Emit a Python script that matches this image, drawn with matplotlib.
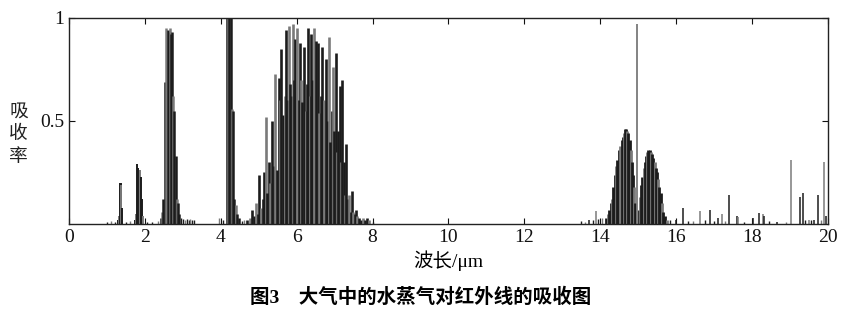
import matplotlib
matplotlib.use("Agg")
import matplotlib.pyplot as plt

# 吸收谱线: 波长(um) 和 吸收率, 按谱带读出
band_14_x = [1.28, 1.31, 1.34, 1.36, 1.38, 1.41]
band_14_y = [0.02, 0.04, 0.20, 0.20, 0.19, 0.08]

band_19_x = [1.74, 1.77, 1.80, 1.83, 1.86, 1.89, 1.92, 1.95]
band_19_y = [0.02, 0.05, 0.29, 0.27, 0.26, 0.23, 0.12, 0.04]

band_27_x = [2.43, 2.46, 2.49, 2.52, 2.56, 2.60, 2.63, 2.66, 2.69, 2.72, 2.75, 2.78, 2.81, 2.84, 2.87, 2.91]
band_27_y = [0.03, 0.06, 0.12, 0.69, 0.95, 0.94, 0.93, 0.95, 0.92, 0.93, 0.62, 0.55, 0.33, 0.12, 0.10, 0.05]

band_43_x = [4.17, 4.20, 4.23, 4.26, 4.29, 4.32, 4.35, 4.39, 4.43, 4.47]
band_43_y = [1.00, 1.00, 1.00, 1.00, 0.56, 0.55, 0.12, 0.09, 0.05, 0.03]

band_63_x = [4.70, 4.76, 4.82, 4.88, 4.93, 4.97, 5.02, 5.07, 5.11, 5.15, 5.18, 5.22, 5.27, 5.31,
             5.35, 5.39, 5.43, 5.48, 5.53, 5.57, 5.60, 5.65, 5.69, 5.73, 5.76, 5.79, 5.83, 5.87,
             5.90, 5.93, 5.96, 6.02, 6.05, 6.09, 6.12, 6.15, 6.20, 6.24, 6.27, 6.31, 6.34, 6.38,
             6.41, 6.45, 6.50, 6.55, 6.59, 6.63, 6.67, 6.71, 6.76, 6.80, 6.84, 6.88, 6.92, 6.96,
             6.99, 7.03, 7.07, 7.10, 7.13, 7.17, 7.20, 7.24, 7.27, 7.31, 7.35, 7.39, 7.42, 7.45,
             7.49, 7.53, 7.56, 7.60, 7.65, 7.70, 7.75, 7.80, 7.85, 7.90]
band_63_y = [0.02, 0.03, 0.07, 0.04, 0.10, 0.05, 0.24, 0.08, 0.12, 0.25, 0.52, 0.15, 0.30, 0.20,
             0.50, 0.28, 0.73, 0.26, 0.71, 0.60, 0.85, 0.53, 0.62, 0.94, 0.60, 0.96, 0.68, 0.62,
             0.97, 0.70, 0.90, 0.95, 0.60, 0.88, 0.70, 0.59, 0.86, 0.55, 0.68, 0.95, 0.62, 0.92,
             0.70, 0.95, 0.89, 0.88, 0.54, 0.62, 0.86, 0.60, 0.80, 0.50, 0.91, 0.40, 0.55, 0.76,
             0.45, 0.83, 0.35, 0.45, 0.67, 0.30, 0.70, 0.30, 0.14, 0.39, 0.12, 0.14, 0.06, 0.16,
             0.06, 0.05, 0.07, 0.04, 0.03, 0.02, 0.03, 0.02, 0.03, 0.02]

band_15_x = [14.15, 14.20, 14.23, 14.27, 14.30, 14.34, 14.38, 14.42, 14.45, 14.49, 14.52, 14.56,
             14.59, 14.62, 14.65, 14.68, 14.71, 14.74, 14.78, 14.81, 14.83, 14.86, 14.89, 14.92,
             15.02, 15.05, 15.08, 15.11, 15.14, 15.17, 15.20, 15.23, 15.26, 15.30, 15.33, 15.36,
             15.40, 15.43, 15.46, 15.49, 15.52, 15.56, 15.59, 15.63, 15.66, 15.70, 15.75]
band_15_y = [0.03, 0.05, 0.07, 0.10, 0.12, 0.18, 0.24, 0.28, 0.31, 0.36, 0.38, 0.41, 0.42, 0.44,
             0.46, 0.46, 0.45, 0.44, 0.41, 0.36, 0.30, 0.24, 0.18, 0.10,
             0.07, 0.13, 0.19, 0.23, 0.27, 0.30, 0.33, 0.35, 0.36, 0.36, 0.35, 0.34, 0.32, 0.30,
             0.27, 0.25, 0.22, 0.18, 0.15, 0.10, 0.06, 0.04, 0.02]

spike_x = [14.96]
spike_y = [0.97]

weak_x = [13.70, 13.88, 16.00, 16.17, 16.63, 16.89, 17.09, 17.21, 17.38, 17.59, 17.62, 18.03,
          18.19, 18.28, 18.31, 18.67, 19.02, 19.27, 19.33, 19.50, 19.62, 19.74, 19.90, 19.94]
weak_y = [0.02, 0.065, 0.02, 0.08, 0.065, 0.07, 0.03, 0.05, 0.14, 0.04, 0.035, 0.03,
          0.055, 0.05, 0.04, 0.01, 0.31, 0.13, 0.15, 0.02, 0.02, 0.14, 0.30, 0.04]

# 背景上的低矮谱线
floor_x = [1.00, 1.10, 1.20, 1.50, 1.60, 2.05, 2.20, 2.35, 2.95, 3.00, 3.05, 3.10, 3.15, 3.20,
           3.25, 3.30, 3.95, 4.05, 4.55, 4.62, 8.00, 13.50, 13.60, 13.80, 13.95, 14.05, 15.85,
           16.30, 16.45, 16.75, 17.00, 17.30, 17.80, 18.45, 18.90, 19.40, 19.55, 19.82]
floor_y = [0.01, 0.015, 0.01, 0.01, 0.015, 0.01, 0.01, 0.015, 0.03, 0.025, 0.02, 0.025, 0.02,
           0.025, 0.02, 0.02, 0.03, 0.02, 0.015, 0.02, 0.01, 0.015, 0.01, 0.02, 0.025, 0.03,
           0.02, 0.015, 0.015, 0.02, 0.015, 0.015, 0.01, 0.015, 0.01, 0.02, 0.02, 0.02]

x_ticks = [0, 2, 4, 6, 8, 10, 12, 14, 16, 18, 20]
y_ticks = [0.5, 1]

dark = "#1c1c1c"
gray = "#7a7a7a"

fig = plt.figure(figsize=(8.41, 3.18), dpi=100)
ax = fig.add_axes([0.082, 0.2956, 0.9025, 0.6478])


def draw_band(xs, ys, lw=1.6):
    cols = [gray if i % 3 == 1 else dark for i in range(len(xs))]
    ax.vlines(xs, 0, ys, colors=cols, linewidth=lw)


draw_band(floor_x, floor_y, lw=1.0)
draw_band(band_14_x, band_14_y, lw=1.4)
draw_band(band_19_x, band_19_y, lw=1.4)
draw_band(band_27_x, band_27_y, lw=1.8)
draw_band(band_43_x, band_43_y, lw=1.8)
draw_band(band_63_x, band_63_y, lw=1.9)
draw_band(band_15_x, band_15_y, lw=2.0)
draw_band(weak_x, weak_y, lw=1.1)
ax.vlines(spike_x, 0, spike_y, colors=gray, linewidth=1.3)

ax.set_xlim(0, 20)
ax.set_ylim(0, 1)
ax.set_xticks(x_ticks)
ax.set_yticks(y_ticks)
ax.set_yticklabels(["0.5", "1"])
ax.tick_params(direction="in", length=4, width=0.8, top=True, right=True,
               labelsize=14, colors="#111111")
for lab in ax.get_xticklabels() + ax.get_yticklabels():
    lab.set_family("Liberation Serif")
for s in ax.spines.values():
    s.set_linewidth(1.0)
    s.set_color("#222222")

fam = ["Liberation Serif", "Noto Sans CJK SC"]
ax.set_xlabel("波长/μm", family=fam, fontsize=14, labelpad=3)
fig.text(0.022, 0.58, "吸\n收\n率", family="Noto Sans CJK SC", fontsize=13.5,
         ha="center", va="center", linespacing=1.1, color="#222222")
fig.text(0.50, 0.065, "图3　大气中的水蒸气对红外线的吸收图", family=fam,
         fontsize=14, fontweight="bold", ha="center", va="center")

fig.savefig("out.png", dpi=100)
